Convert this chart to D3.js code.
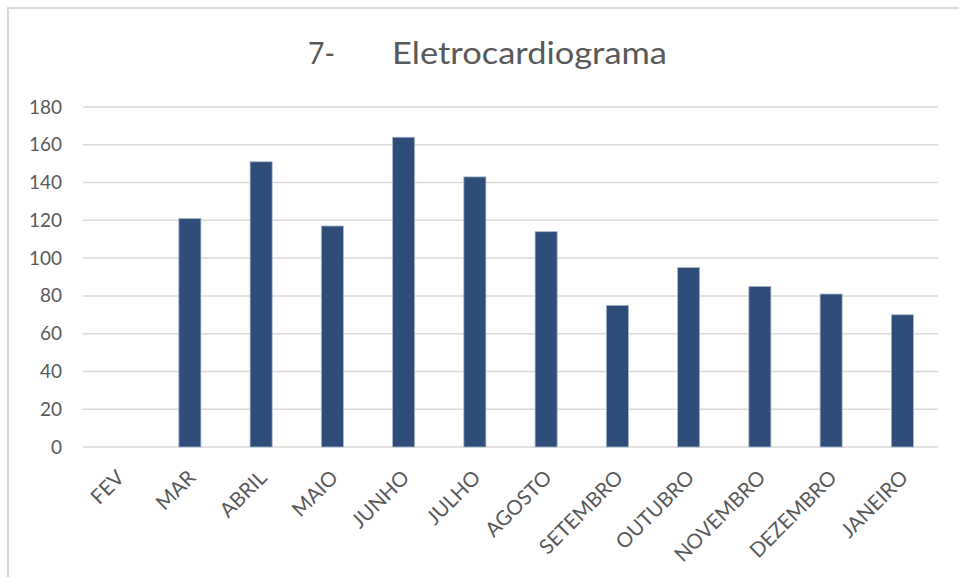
<!DOCTYPE html>
<html>
<head>
<meta charset="utf-8">
<script src="https://cdn.jsdelivr.net/npm/d3@7"></script>
<style>
  html, body { margin: 0; padding: 0; background: #fff; }
  svg { display: block; }
  text { font-family: Lato, "Open Sans", "Liberation Sans", sans-serif; fill: #595959; }
</style>
</head>
<body>
<script>
// Monthly count of electrocardiograms
const months = ["FEV", "MAR", "ABRIL", "MAIO", "JUNHO", "JULHO", "AGOSTO", "SETEMBRO", "OUTUBRO", "NOVEMBRO", "DEZEMBRO", "JANEIRO"];
const counts = [0, 121, 151, 117, 164, 143, 114, 75, 95, 85, 81, 70];
const yTicks = [0, 20, 40, 60, 80, 100, 120, 140, 160, 180];
const titleNumber = "7-";
const titleText = "Eletrocardiograma";

const W = 959, H = 577;
const margin = { left: 83, right: 21, top: 107, bottom: 130 };

const svg = d3.select("body").append("svg").attr("width", W).attr("height", H);

// chart frame (top and left edges)
svg.append("path")
  .attr("d", `M8,${H} L8,8 L${W},8`)
  .attr("fill", "none").attr("stroke", "#d9d9d9").attr("stroke-width", 2);

const x = d3.scaleBand()
  .domain(months)
  .range([margin.left, W - margin.right])
  .paddingInner(0.69).paddingOuter(0.345);

const y = d3.scaleLinear()
  .domain([0, 180])
  .range([H - margin.bottom, margin.top]);

// horizontal gridlines
svg.append("g")
  .selectAll("line")
  .data(yTicks)
  .join("line")
  .attr("x1", margin.left).attr("x2", W - margin.right)
  .attr("y1", d => y(d)).attr("y2", d => y(d))
  .attr("stroke", "#d9d9d9").attr("stroke-width", 1.5);

// y axis labels
const yAxis = svg.append("g")
  .attr("transform", `translate(${margin.left},0)`)
  .call(d3.axisLeft(y).tickValues(yTicks).tickSize(0).tickPadding(21));
yAxis.select(".domain").remove();
yAxis.selectAll("text").attr("font-size", 19).style("fill", "#595959")
  .style("font-family", "Lato, 'Open Sans', sans-serif");

// bars
svg.append("g")
  .selectAll("rect")
  .data(months.map((m, i) => ({ m, v: counts[i] })).filter(d => d.v > 0))
  .join("rect")
  .attr("x", d => x(d.m))
  .attr("width", x.bandwidth())
  .attr("y", d => y(d.v))
  .attr("height", d => y(0) - y(d.v))
  .attr("fill", "#2e4e79")
  .attr("stroke", "#a9b8cc").attr("stroke-width", 0.8);

// x axis category labels, rotated
const xAxis = svg.append("g")
  .attr("transform", `translate(0,${y(0)})`)
  .call(d3.axisBottom(x).tickSize(0).tickPadding(0));
xAxis.select(".domain").remove();
xAxis.selectAll("text")
  .attr("text-anchor", "end")
  .attr("dy", null)
  .attr("font-size", 20.5)
  .style("fill", "#595959")
  .style("font-family", "Lato, 'Open Sans', sans-serif")
  .attr("transform", "translate(7,32) rotate(-45)");

// title
const title = svg.append("text")
  .attr("y", 64)
  .attr("font-size", 30)
  .style("fill", "#595959");
title.append("tspan").attr("x", 308).attr("textLength", 27)
  .attr("lengthAdjust", "spacingAndGlyphs").text(titleNumber);
title.append("tspan").attr("x", 392).attr("textLength", 275)
  .attr("lengthAdjust", "spacingAndGlyphs").text(titleText);
</script>
</body>
</html>
